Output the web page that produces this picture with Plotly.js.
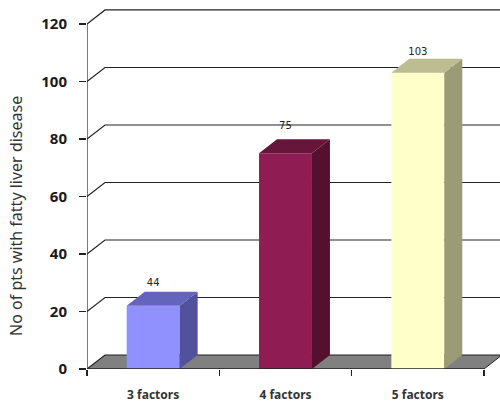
<!DOCTYPE html>
<html>
<head>
<meta charset="utf-8">
<script src="https://cdn.plot.ly/plotly-3.0.1.min.js"></script>
<style>html,body{margin:0;padding:0;background:#fff;overflow:hidden}#chart{width:500px;height:403px}</style>
</head>
<body>
<div id="chart"></div>
<script>
// Data
const categories = ["3 factors", "4 factors", "5 factors"];
const barHeights = [22, 75, 103];
const barLabels = ["44", "75", "103"];
const yTicks = [0, 20, 40, 60, 80, 100, 120];
const yTitle = "No of pts with fatty liver disease";

// Styles
const frontColors = ["#9090FF", "#8F1D54", "#FFFFCA"];
const topColors = ["#6464BC", "#68153C", "#BDBD92"];
const sideColors = ["#51519C", "#551030", "#9B9B75"];
const labelLift = [2.8, 4.3, 2.1];

// Pseudo-3D geometry in axis units
const depthX = 0.136, depthY = 4.87, barW = 0.4;
const xMin = -0.5, xEnd = 2.5, xMax = 2.621, yMax = 126.6;
const pos = categories.map((_, i) => i);
const ink = "#222222";

const traces = [];
const poly = (xs, ys, color, axis) => ({
  type: "scatter", mode: "lines", x: xs, y: ys, fill: "toself", fillcolor: color,
  line: {width: 0, color: color}, hoverinfo: "skip", showlegend: false, xaxis: axis, yaxis: "y"
});
const stroke = (xs, ys, axis, w, noClip) => ({
  type: "scatter", mode: "lines", x: xs, y: ys, line: {color: ink, width: w},
  hoverinfo: "skip", showlegend: false, xaxis: axis, yaxis: "y", cliponaxis: !noClip
});

// Lower layer: floor, walls' gridlines
traces.push(poly(
  [xMin, xEnd, xEnd + depthX, xMin + depthX, xMin],
  [0, 0, depthY, depthY, 0], "#808080", "x"));
yTicks.forEach(v => {
  traces.push(stroke([xMin, xMin + depthX, xMax], [v, v + depthY, v + depthY], "x", 1.2, false));
});
traces.push(stroke([xMin, xMin], [0, 120], "x", 1.2, true));

// Upper layer: bars and faces
traces.push({
  type: "bar", x: pos, y: barHeights, width: barW, xaxis: "x2", yaxis: "y",
  marker: {color: frontColors, line: {width: 0}}, hoverinfo: "skip", showlegend: false
});
pos.forEach((p, i) => {
  const l = p - barW / 2, r = p + barW / 2, v = barHeights[i];
  traces.push(poly(
    [r, r + depthX, r + depthX, r, r],
    [0, depthY, v + depthY, v, 0], sideColors[i], "x2"));
  traces.push(poly(
    [l, r, r + depthX, l + depthX, l],
    [v, v, v + depthY, v + depthY, v], topColors[i], "x2"));
});
traces.push(stroke([xMin, xEnd], [0, 0], "x2", 1.4, true));
traces.push(stroke([xEnd, xEnd + depthX], [0, depthY], "x2", 1, false));
traces.push({
  type: "scatter", mode: "text", x: pos,
  y: barHeights.map((v, i) => v + depthY + labelLift[i]),
  text: barLabels, textposition: "middle center",
  textfont: {family: "DejaVu Sans", size: 10, color: "#222"},
  hoverinfo: "skip", showlegend: false, xaxis: "x2", yaxis: "y", cliponaxis: false
});

const layout = {
  width: 500, height: 403,
  margin: {l: 87, r: 0, t: 5, b: 34, pad: 0},
  paper_bgcolor: "#fff", plot_bgcolor: "#fff",
  showlegend: false, barmode: "overlay",
  xaxis: {
    type: "linear", range: [xMin, xMax], tickmode: "array", tickvals: pos, ticktext: categories,
    ticks: "", showgrid: false, zeroline: false, showline: false,
    ticklabelstandoff: 17,
    tickfont: {family: "Noto Sans", size: 12, weight: 700, color: "#333"}
  },
  xaxis2: {
    type: "linear", overlaying: "x", anchor: "y", side: "bottom", range: [xMin, xMax],
    tickmode: "array", tickvals: [-0.5, 0.5, 1.5, 2.5], ticks: "outside", ticklen: 6, tickwidth: 1.2,
    tickcolor: ink, showticklabels: false, showgrid: false, zeroline: false, showline: false
  },
  yaxis: {
    type: "linear", range: [0, yMax], tickmode: "array", tickvals: yTicks,
    ticks: "outside", ticklen: 7, tickwidth: 1.2, tickcolor: ink,
    showgrid: false, zeroline: false, showline: false, ticklabelstandoff: 9,
    tickfont: {family: "Noto Sans", size: 15, weight: 700, color: "#1a1a1a"}
  },
  annotations: [{
    text: yTitle, xref: "paper", yref: "paper", x: -0.172, y: (369 - 216) / 364,
    xanchor: "center", yanchor: "middle", textangle: -90, showarrow: false,
    font: {family: "Noto Sans", size: 16, color: "#333"}
  }]
};

Plotly.newPlot("chart", traces, layout, {displayModeBar: false, staticPlot: true});
</script>
</body>
</html>
